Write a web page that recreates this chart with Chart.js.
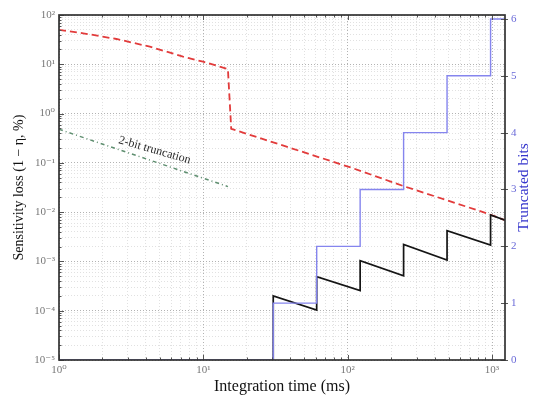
<!DOCTYPE html>
<html><head><meta charset="utf-8">
<script src="https://cdn.jsdelivr.net/npm/chart.js@4.4.0/dist/chart.umd.min.js"></script>
<style>html,body{margin:0;padding:0;background:#fff;} canvas{display:block}</style>
</head><body>
<canvas id="c" width="534" height="398"></canvas>
<script>
// ---- data ----
const redTimes   = [1, 1.47, 2.5, 4.26, 7.23, 9.95, 14.8, 15.6, 37.7, 109, 242, 916, 1230];
const redLoss    = [49.7, 42.6, 32.6, 22.8, 14.3, 11.3, 8.0, 0.49, 0.213, 0.0776, 0.034, 0.0095, 0.0069];
const greenTimes = [1, 14.8];
const greenLoss  = [0.48, 0.033];
const stepTimes  = [30.5, 61, 122, 244, 488, 977];
const sawPeaks   = [2.0e-4, 4.9e-4, 1.04e-3, 2.2e-3, 4.2e-3, 8.8e-3];
const sawTroughs = [1.03e-4, 2.55e-4, 5.1e-4, 1.07e-3, 2.15e-3, 6.9e-3];
const truncatedBits = [0, 1, 2, 3, 4, 5, 6];
const xMin = 1, xMax = 1230;
const yMin = 1e-5, yMax = 100;
const bitsMin = 0, bitsMax = 6.07;
const xDecades = [1, 10, 100, 1000];
const xTickLabels = ['10⁰', '10¹', '10²', '10³'];
const yDecades = [1e-5, 1e-4, 1e-3, 1e-2, 1e-1, 1, 10, 100];
const yTickLabels = ['10⁻⁵', '10⁻⁴', '10⁻³', '10⁻²', '10⁻¹', '10⁰', '10¹', '10²'];
const bitTicks = [0, 1, 2, 3, 4, 5, 6];
const bitTickLabels = ['0', '1', '2', '3', '4', '5', '6'];
const annotText = '2-bit truncation';
const annotAt = {x: 4.6, y: 0.18};

// ---- build datasets ----
const redPts = redTimes.map((t, i) => ({x: t, y: redLoss[i]}));
const greenPts = greenTimes.map((t, i) => ({x: t, y: greenLoss[i]}));
const blackPts = [{x: stepTimes[0], y: 1e-7}];
stepTimes.forEach((t, i) => {
  blackPts.push({x: t, y: sawPeaks[i]});
  blackPts.push({x: i < stepTimes.length - 1 ? stepTimes[i + 1] : xMax, y: sawTroughs[i]});
});
const blueX = [xMin, ...stepTimes, xMax];
const bluePts = [];
for (let i = 0; i < blueX.length - 1; i++) {
  const b = truncatedBits[i];
  bluePts.push({x: blueX[i], y: b});
  bluePts.push({x: blueX[i + 1], y: b});
}

function minorTicks(decades, lo, hi) {
  const out = [];
  decades.forEach(d => { for (let k = 1; k < 10; k++) { const v = d * k; if (v >= lo * 0.9999 && v <= hi * 1.0001) out.push(v); } });
  return out;
}
const isDec = (v, decs) => decs.some(d => Math.abs(v / d - 1) < 1e-6);
const xAll = minorTicks(xDecades, xMin, xMax);
const yAll = minorTicks(yDecades, yMin, yMax);

const serif = "'Liberation Serif', 'DejaVu Serif', serif";

const framePlugin = {
  id: 'frame',
  afterDatasetsDraw(chart) {
    const {ctx, chartArea: a, scales} = chart;
    const x = scales.x, y = scales.y, y1 = scales.y1;
    ctx.save();
    ctx.strokeStyle = '#555'; ctx.lineWidth = 1;
    const seg = (x0, y0, x1, y1_) => { ctx.beginPath(); ctx.moveTo(x0, y0); ctx.lineTo(x1, y1_); ctx.stroke(); };
    xAll.forEach(v => {
      const px = Math.round(x.getPixelForValue(v)) + 0.5;
      const L = isDec(v, xDecades) ? 5 : 2.5;
      seg(px, a.bottom, px, a.bottom - L);
      seg(px, a.top, px, a.top + L);
    });
    yAll.forEach(v => {
      const py = Math.round(y.getPixelForValue(v)) + 0.5;
      const L = isDec(v, yDecades) ? 5 : 2.5;
      seg(a.left, py, a.left + L, py);
    });
    bitTicks.forEach(v => {
      const py = Math.round(y1.getPixelForValue(v)) + 0.5;
      seg(a.right - 4, py, a.right + 3, py);
    });
    ctx.strokeStyle = '#333'; ctx.lineWidth = 1.7;
    ctx.strokeRect(a.left, a.top, a.right - a.left, a.bottom - a.top);
    // annotation
    ctx.fillStyle = '#2a2a2a';
    ctx.font = "12px " + serif;
    ctx.textAlign = 'center'; ctx.textBaseline = 'middle';
    ctx.translate(x.getPixelForValue(annotAt.x), y.getPixelForValue(annotAt.y));
    ctx.rotate(16 * Math.PI / 180);
    ctx.fillText(annotText, 0, 0);
    ctx.restore();
    // right title (reads bottom-to-top)
    ctx.save();
    ctx.fillStyle = '#3535cc';
    ctx.font = "15.5px " + serif;
    ctx.textAlign = 'center'; ctx.textBaseline = 'middle';
    ctx.translate(524, (a.top + a.bottom) / 2);
    ctx.rotate(-Math.PI / 2);
    ctx.fillText('Truncated bits', 0, 0);
    ctx.restore();
  }
};

const gridColor = (decs) => (c) => (c.tick && isDec(c.tick.value, decs)) ? 'rgba(165,165,165,0.85)' : 'rgba(205,205,205,0.6)';

new Chart(document.getElementById('c'), {
  type: 'line',
  data: {
    datasets: [
      {data: bluePts, borderColor: '#8585ee', borderWidth: 1.4, yAxisID: 'y1', pointRadius: 0, tension: 0},
      {data: greenPts, borderColor: '#5f8f70', borderWidth: 1.5, borderDash: [4, 3, 1, 3], yAxisID: 'y', pointRadius: 0},
      {data: blackPts, borderColor: '#151515', borderWidth: 1.7, yAxisID: 'y', pointRadius: 0},
      {data: redPts, borderColor: '#e23b3b', borderWidth: 1.8, borderDash: [7, 4], yAxisID: 'y', pointRadius: 0}
    ]
  },
  options: {
    responsive: false, animation: false,
    layout: {padding: {top: 15, left: 0, right: 0, bottom: 0}},
    plugins: {legend: {display: false}, tooltip: {enabled: false}},
    scales: {
      x: {
        type: 'logarithmic', min: xMin, max: xMax,
        afterBuildTicks: s => { s.ticks = xAll.map(v => ({value: v})); },
        afterFit: s => { s.height = 38; },
        grid: {drawTicks: false, color: gridColor(xDecades), lineWidth: 1},
        border: {display: false, dash: [1, 2]},
        ticks: {
          autoSkip: false, maxRotation: 0, padding: 4, color: '#777',
          font: {family: serif, size: 11},
          callback: v => { const i = xDecades.findIndex(d => Math.abs(v / d - 1) < 1e-6); return i >= 0 ? xTickLabels[i] : ''; }
        },
        title: {display: true, text: 'Integration time (ms)', color: '#111', font: {family: serif, size: 16}, padding: {top: 0, bottom: 2}}
      },
      y: {
        type: 'logarithmic', position: 'left', min: yMin, max: yMax,
        afterBuildTicks: s => { s.ticks = yAll.map(v => ({value: v})); },
        afterFit: s => { s.width = 59; },
        grid: {drawTicks: false, color: gridColor(yDecades), lineWidth: 1},
        border: {display: false, dash: [1, 2]},
        ticks: {
          autoSkip: false, padding: 4, color: '#777',
          font: {family: serif, size: 11},
          callback: v => { const i = yDecades.findIndex(d => Math.abs(v / d - 1) < 1e-6); return i >= 0 ? yTickLabels[i] : ''; }
        },
        title: {display: true, text: 'Sensitivity loss (1 − η, %)', color: '#111', font: {family: serif, size: 14}, padding: {top: 11, bottom: 0}}
      },
      y1: {
        type: 'linear', position: 'right', min: bitsMin, max: bitsMax,
        afterBuildTicks: s => { s.ticks = bitTicks.map(v => ({value: v})); },
        afterFit: s => { s.width = 29; },
        grid: {drawOnChartArea: false, drawTicks: false},
        border: {display: false},
        ticks: {
          autoSkip: false, padding: 6, color: '#6a6ad8',
          font: {family: serif, size: 11},
          callback: (v, i) => bitTickLabels[bitTicks.indexOf(v)] ?? ''
        }
      }
    }
  },
  plugins: [framePlugin]
});
</script>
</body></html>
